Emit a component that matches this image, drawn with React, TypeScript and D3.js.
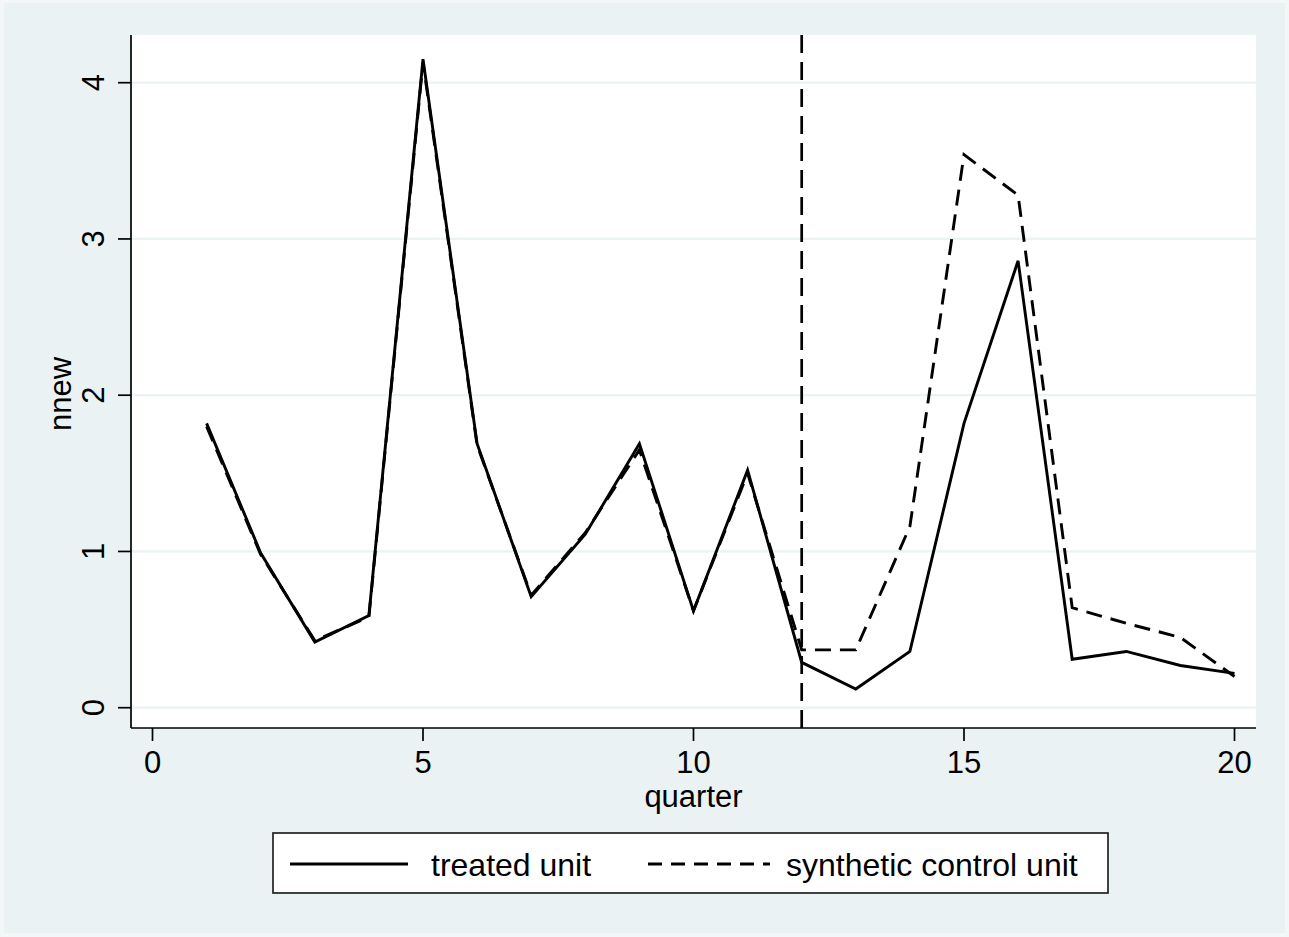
import React from "react";
import * as d3 from "d3";

const quarters = [1, 2, 3, 4, 5, 6, 7, 8, 9, 10, 11, 12, 13, 14, 15, 16, 17, 18, 19, 20];
const treated = [1.82, 0.99, 0.42, 0.59, 4.15, 1.69, 0.71, 1.11, 1.69, 0.62, 1.52, 0.29, 0.12, 0.36, 1.82, 2.86, 0.31, 0.36, 0.27, 0.22];
const synthetic = [1.80, 0.98, 0.43, 0.58, 4.13, 1.68, 0.72, 1.12, 1.65, 0.62, 1.50, 0.37, 0.37, 1.16, 3.54, 3.28, 0.64, 0.54, 0.45, 0.20];
const xTicks = [0, 5, 10, 15, 20];
const yTicks = [0, 1, 2, 3, 4];
const treatmentQuarter = 12;
const legendLabels = ["treated unit", "synthetic control unit"];
const xTitle = "quarter";
const yTitle = "nnew";

const W = 1289;
const H = 937;
const BG = "#eaf2f3";
const FONT = "'Liberation Sans', Arial, Helvetica, sans-serif";

export default function App() {
  const plot = { left: 131, right: 1256, top: 35, bottom: 728 };
  const x = d3.scaleLinear().domain([0, 20]).range([152.5, 1234.5]);
  const y = d3.scaleLinear().domain([0, 4]).range([707.7, 82.7]);
  const line = d3
    .line<number>()
    .x((_, i) => x(quarters[i]))
    .y((d) => y(d));

  return (
    <svg
      width={W}
      height={H}
      style={{ position: "absolute", left: 0, top: 0, display: "block" }}
      fontFamily={FONT}
    >
      <rect x={0} y={0} width={W} height={H} fill="#f4f7f8" />
      <rect x={4} y={3} width={W - 8} height={H - 7} fill={BG} />
      <rect x={plot.left} y={plot.top} width={plot.right - plot.left} height={plot.bottom - plot.top} fill="#ffffff" />
      {yTicks.map((t) => (
        <line key={"g" + t} x1={plot.left} x2={plot.right} y1={y(t)} y2={y(t)} stroke={BG} strokeWidth={2.2} />
      ))}
      <line
        x1={x(treatmentQuarter)}
        x2={x(treatmentQuarter)}
        y1={plot.top}
        y2={plot.bottom}
        stroke="#000"
        strokeWidth={2.7}
        strokeDasharray="18,9"
      />
      <path d={line(synthetic) || ""} fill="none" stroke="#000" strokeWidth={2.9} strokeDasharray="16,9" strokeLinejoin="miter" />
      <path d={line(treated) || ""} fill="none" stroke="#000" strokeWidth={2.9} strokeLinejoin="miter" />
      <line x1={plot.left} x2={plot.left} y1={plot.top} y2={plot.bottom} stroke="#000" strokeWidth={1.7} />
      <line x1={plot.left} x2={plot.right} y1={plot.bottom} y2={plot.bottom} stroke="#000" strokeWidth={1.7} />
      {yTicks.map((t) => (
        <g key={"y" + t}>
          <line x1={plot.left - 13} x2={plot.left} y1={y(t)} y2={y(t)} stroke="#000" strokeWidth={1.7} />
          <text transform={`translate(104,${y(t)}) rotate(-90)`} textAnchor="middle" fontSize={31} fill="#000">
            {t}
          </text>
        </g>
      ))}
      {xTicks.map((t) => (
        <g key={"x" + t}>
          <line x1={x(t)} x2={x(t)} y1={plot.bottom} y2={plot.bottom + 13} stroke="#000" strokeWidth={1.7} />
          <text x={x(t)} y={773} textAnchor="middle" fontSize={31} fill="#000">
            {t}
          </text>
        </g>
      ))}
      <text x={(plot.left + plot.right) / 2} y={807} textAnchor="middle" fontSize={31} fill="#000">
        {xTitle}
      </text>
      <text transform="translate(71,394) rotate(-90)" textAnchor="middle" fontSize={31} fill="#000">
        {yTitle}
      </text>
      <rect x={273} y={833} width={835} height={60} fill="#fff" stroke="#222" strokeWidth={1.7} />
      <line x1={290} x2={408} y1={864} y2={864} stroke="#000" strokeWidth={2.9} />
      <text x={431} y={876} fontSize={32} fill="#000">
        {legendLabels[0]}
      </text>
      <line x1={648} x2={770} y1={864} y2={864} stroke="#000" strokeWidth={2.9} strokeDasharray="14,9" />
      <text x={786} y={876} fontSize={32} fill="#000">
        {legendLabels[1]}
      </text>
    </svg>
  );
}
